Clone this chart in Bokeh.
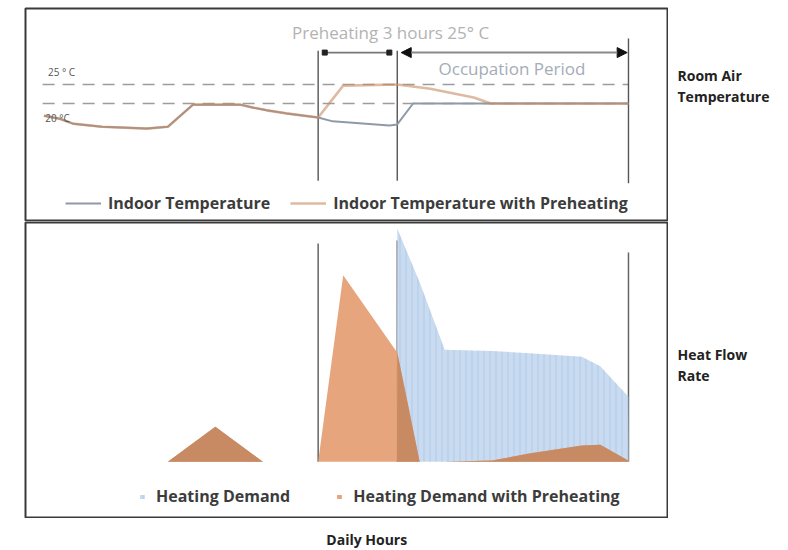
import numpy as np
from bokeh.plotting import figure
from bokeh.layouts import column, row
from bokeh.models import Range1d, Legend, LegendItem, Label, Arrow, NormalHead
from bokeh.embed import file_html
from bokeh.resources import INLINE

# ---------------- data ----------------
preheat_start = 11.0
occupation_start = 14.0
occupation_end = 22.77
setpoints = [25, 20]
setpoint_labels = ["25 ° C", "20 °C"]

temp_hours = [0.6, 1.2, 1.7, 2.8, 4.5, 5.3, 6.25, 7.2, 8.05, 8.55, 9.05, 9.8, 11.0, 11.55, 13.7, 14.0, 14.6, 22.77]
temp_indoor = [16.8, 16.0, 14.7, 13.9, 13.4, 13.9, 19.7, 19.7, 19.7, 18.9, 18.2, 17.4, 16.3, 15.3, 14.2, 14.5, 20.0, 20.0]

pre_hours = [0.6, 1.2, 1.7, 2.8, 4.5, 5.3, 6.25, 7.2, 8.05, 8.55, 9.05, 9.8, 11.0, 11.95, 14.0, 15.25, 16.9, 17.55, 22.77]
temp_preheat = [16.8, 16.0, 14.7, 13.9, 13.4, 13.9, 19.7, 19.7, 19.7, 18.9, 18.2, 17.4, 16.3, 24.7, 25.0, 23.9, 21.6, 20.0, 20.0]

heat_hours = [5.3, 7.1, 8.9, 11.0, 11.95, 13.99, 14.0, 14.85, 15.8, 17.6, 19.0, 21.0, 21.7, 22.76, 22.77]
heat_demand = [0, 1.5, 0, 0, 0, 0, 10.0, 7.7, 4.8, 4.75, 4.65, 4.5, 4.1, 2.8, 0]
heat_demand_preheat = [0, 1.5, 0, 0, 8.0, 4.7, 4.7, 0, 0, 0.05, 0.35, 0.7, 0.73, 0.05, 0]

legend_top = ["Indoor Temperature", "Indoor Temperature with Preheating"]
legend_bottom = ["Heating Demand", "Heating Demand with Preheating"]
side_labels_top = ["Room Air", "Temperature"]
side_labels_bottom = ["Heat Flow", "Rate"]
x_title = "Daily Hours"

FONT = "Open Sans"
X_RANGE = Range1d(-0.1, 24.25)


def blank(width, height, **kw):
    f = figure(width=width, height=height, output_backend="svg", toolbar_location=None,
               x_axis_location=None, y_axis_location=None, **kw)
    f.grid.visible = False
    f.border_fill_color = "white"
    return f


# ---------------- top panel ----------------
p1 = blank(668, 221, x_range=X_RANGE, y_range=Range1d(-11.05, 45.0),
           min_border_left=25, min_border_right=1, min_border_top=8, min_border_bottom=0)
p1.outline_line_color = "#3a3a3a"
p1.outline_line_width = 2

for sp in setpoints:
    p1.line([temp_hours[0] - 0.05, occupation_end], [sp, sp], line_color="#9c9c9c",
            line_width=1.6, line_dash="12 8")

p1.segment(x0=[preheat_start, occupation_start], y0=[-0.3, -0.3],
           x1=[preheat_start, occupation_start], y1=[33.9, 33.9], line_color="#555555", line_width=1.4)
p1.segment(x0=[occupation_end], y0=[-1.0], x1=[occupation_end], y1=[37.1],
           line_color="#555555", line_width=1.4)

r_in = p1.line(temp_hours, temp_indoor, line_color="#8f9aa8", line_width=2)
r_pre = p1.line(pre_hours, temp_preheat, line_color="#c98a62", line_width=2.6, line_alpha=0.6)

p1.segment(x0=[preheat_start + 0.25], y0=[33.4], x1=[occupation_start - 0.3], y1=[33.4],
           line_color="#777777", line_width=1.6)
p1.scatter([preheat_start + 0.25, occupation_start - 0.3], [33.4, 33.4], size=5,
           marker="square", color="#222222")
p1.add_layout(Arrow(x_start=occupation_start + 0.15, y_start=33.4, x_end=occupation_end - 0.05, y_end=33.4,
                    line_color="#8a8a8a", line_width=2,
                    start=NormalHead(size=10, fill_color="#111111", line_color="#111111"),
                    end=NormalHead(size=10, fill_color="#111111", line_color="#111111")))

p1.add_layout(Label(x=13.75, y=38.6, text="Preheating 3 hours 25° C", text_font=FONT,
                    text_font_size="17px", text_color="#b3b3b3", text_align="center",
                    text_baseline="middle"))
p1.add_layout(Label(x=18.35, y=29.2, text="Occupation Period", text_font=FONT,
                    text_font_size="17px", text_color="#a4acb8", text_align="center",
                    text_baseline="middle"))
p1.add_layout(Label(x=0.75, y=28.2, text=setpoint_labels[0], text_font=FONT,
                    text_font_size="10px", text_color="#555555", text_baseline="middle"))
p1.add_layout(Label(x=0.65, y=16.3, text=setpoint_labels[1], text_font=FONT,
                    text_font_size="10px", text_color="#555555", text_baseline="middle"))

leg1 = Legend(items=[LegendItem(label=legend_top[0], renderers=[r_in]),
                     LegendItem(label=legend_top[1], renderers=[r_pre])],
              orientation="horizontal", location=(40, 7), glyph_width=36, glyph_height=14,
              label_standoff=7, spacing=20, padding=0, margin=0,
              label_text_font=FONT, label_text_font_size="16px", label_text_font_style="bold",
              label_text_color="#3c3c3c",
              background_fill_alpha=0, border_line_color=None)
p1.add_layout(leg1)

# ---------------- bottom panel ----------------
p2 = blank(668, 297, x_range=X_RANGE, y_range=Range1d(-2.39, 10.26),
           min_border_left=25, min_border_right=1, min_border_top=1, min_border_bottom=1)
p2.outline_line_color = "#3a3a3a"
p2.outline_line_width = 2

p2.segment(x0=[preheat_start, occupation_start, occupation_end], y0=[0, 0, 0],
           x1=[preheat_start, occupation_start, occupation_end], y1=[9.36, 9.49, 8.97],
           line_color="#666666", line_width=1.5)

hd = np.array(heat_demand)
hdp = np.array(heat_demand_preheat)
r_hd = p2.varea(x=heat_hours, y1=0, y2=hd, fill_color="#c6d9ef", fill_alpha=0.95,
                hatch_pattern="vertical_line", hatch_color="#a6c0e2", hatch_scale=6,
                hatch_weight=1, hatch_alpha=0.7)
r_hdp = p2.varea(x=heat_hours, y1=0, y2=hdp, fill_color="#e6a077", fill_alpha=0.95)
p2.varea(x=heat_hours, y1=0, y2=np.minimum(hd, hdp), fill_color="#c68962", fill_alpha=0.95)

leg2 = Legend(items=[LegendItem(label=legend_bottom[0], renderers=[r_hd]),
                     LegendItem(label=legend_bottom[1], renderers=[r_hdp])],
              orientation="horizontal", location=(114, 10), glyph_width=6, glyph_height=5,
              label_standoff=11, spacing=46, padding=0, margin=0,
              label_text_font=FONT, label_text_font_size="16px", label_text_font_style="bold",
              label_text_color="#3c3c3c",
              background_fill_alpha=0, border_line_color=None)
p2.add_layout(leg2)

# ---------------- x title strip ----------------
p3 = blank(668, 32, x_range=Range1d(0, 668), y_range=Range1d(32, 0),
           min_border_left=0, min_border_right=0, min_border_top=0, min_border_bottom=0)
p3.outline_line_color = None
p3.add_layout(Label(x=313, y=21, text=x_title, text_font=FONT, text_font_size="14px",
                    text_font_style="bold", text_color="#222222", text_baseline="middle"))

# ---------------- side labels ----------------
q = blank(120, 550, x_range=Range1d(0, 120), y_range=Range1d(550, 0),
          min_border_left=0, min_border_right=0, min_border_top=0, min_border_bottom=0)
q.outline_line_color = None
for txt, yy in zip(side_labels_top + side_labels_bottom, [75, 96, 354, 375]):
    q.add_layout(Label(x=9, y=yy, text=txt, text_font=FONT, text_font_size="14px",
                       text_font_style="bold", text_color="#222222", text_baseline="middle"))

layout = row(column(p1, p2, p3, spacing=0), q, spacing=0)
open("out.html", "w").write(file_html(layout, INLINE))
